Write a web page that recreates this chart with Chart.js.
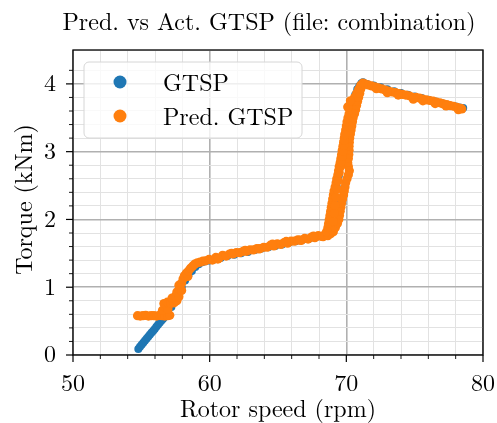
<!DOCTYPE html>
<html>
<head>
<meta charset="utf-8">
<script src="https://cdn.jsdelivr.net/npm/chart.js@4.4.1/dist/chart.umd.min.js"></script>
<style>
  html, body { margin: 0; padding: 0; background: #ffffff; }
  canvas { display: block; }
</style>
</head>
<body>
<canvas id="chart" width="497" height="423"></canvas>
<script>
// Measured GTSP: rotor speed (rpm) and torque (kNm)
const gtspSpeed = [
  54.78, 54.90, 55.02, 55.14, 55.26, 55.38, 55.50, 55.62, 55.74, 55.86, 55.98, 56.10, 56.22, 56.34, 56.46, 56.58, 56.70,
  56.95, 57.20, 57.45, 57.70, 57.95, 58.20, 58.45, 58.70, 58.95, 59.20, 59.45, 59.70, 59.95,
  60.30, 60.80, 61.30, 61.80, 62.30, 62.80, 63.30, 63.80, 64.30, 64.80, 65.30, 65.80, 66.30, 66.80, 67.30, 67.80, 68.30, 68.70,
  68.85, 69.00, 69.15, 69.30, 69.45, 69.60, 69.75, 69.90, 70.05, 70.20, 70.35, 70.50, 70.65, 70.80, 70.95, 71.10, 71.22,
  71.50, 72.00, 72.50, 73.00, 73.50, 74.00, 74.50, 75.00, 75.50, 76.00, 76.50, 77.00, 77.50, 78.00, 78.30, 78.55
];
const gtspTorque = [
  0.09, 0.12, 0.15, 0.18, 0.21, 0.24, 0.27, 0.30, 0.33, 0.355, 0.385, 0.415, 0.445, 0.475, 0.505, 0.53, 0.56,
  0.63, 0.71, 0.80, 0.89, 1.00, 1.10, 1.18, 1.24, 1.30, 1.34, 1.37, 1.385, 1.395,
  1.41, 1.43, 1.46, 1.48, 1.50, 1.52, 1.55, 1.57, 1.59, 1.61, 1.63, 1.66, 1.68, 1.70, 1.72, 1.74, 1.76, 1.79,
  1.95, 2.12, 2.30, 2.48, 2.65, 2.82, 2.99, 3.16, 3.33, 3.48, 3.62, 3.74, 3.84, 3.92, 3.97, 4.01, 4.025,
  4.00, 3.975, 3.95, 3.92, 3.89, 3.865, 3.84, 3.815, 3.79, 3.765, 3.74, 3.715, 3.69, 3.665, 3.65, 3.645
];

// Predicted GTSP: rotor speed (rpm) and torque (kNm)
const predSpeed = [
  // low-speed flat run
  54.72, 54.92, 55.12, 55.32, 55.52, 55.72, 55.92, 56.12, 56.32, 56.52, 56.72, 56.92, 57.08,
  // rise to the knee
  56.55, 56.75, 56.95, 56.65, 56.90, 57.15, 57.40, 57.60, 57.25, 57.50, 57.75, 57.60, 57.80, 57.95, 57.75, 57.95,
  58.05, 58.15, 58.40, 58.30, 58.45, 58.60, 58.75, 58.90, 59.10, 59.30, 59.50, 59.70,
  // partial-load plateau
  59.95, 60.20, 60.45, 60.70, 60.95, 61.20, 61.45, 61.70, 61.95, 62.20, 62.45, 62.70, 62.95, 63.20, 63.45, 63.70,
  63.95, 64.20, 64.45, 64.70, 64.95, 65.20, 65.45, 65.70, 65.95, 66.20, 66.45, 66.70, 66.95, 67.20, 67.45, 67.70,
  67.95, 68.20, 68.45,
  60.60, 61.60, 62.60, 63.60, 64.60, 65.60, 66.60, 67.60, 68.30, 68.65, 68.85,
  // steep transition
  68.55, 69.05, 68.65, 69.20, 68.70, 69.35, 68.75, 69.45, 68.80, 69.50, 68.85, 69.55, 68.90, 69.60, 68.95, 69.65,
  69.00, 69.72, 69.05, 69.80, 69.10, 69.85, 69.18, 69.90, 69.25, 69.95, 69.30, 70.05, 69.38, 70.15, 69.43, 70.22,
  69.48, 70.15, 69.55, 70.10, 69.60, 70.15, 69.65, 70.18, 69.70, 70.20, 69.75, 70.20, 69.80, 70.22, 69.85, 70.25,
  69.90, 70.30, 69.95, 70.35, 70.00, 70.40, 70.05, 70.45, 70.12, 70.50, 70.20, 70.60, 70.30, 70.68, 70.40, 70.75,
  70.45, 70.82, 70.60, 70.90, 70.75, 70.98, 70.90, 71.05, 71.05, 71.15, 71.20,
  70.10, 70.30,
  69.05, 69.12, 69.18, 69.25, 69.32, 69.40, 69.48, 69.55, 69.62, 69.70, 69.78, 69.82, 69.85, 69.90,
  // rated region
  71.35, 71.60, 71.85, 72.10, 72.35, 72.60, 72.85, 73.10, 73.35, 73.60, 73.85, 74.10, 74.35, 74.60, 74.85, 75.10,
  75.35, 75.60, 75.85, 76.10, 76.35, 76.60, 76.85, 77.10, 77.35, 77.60, 77.85, 78.10, 78.35,
  72.20, 73.00, 73.80, 74.90, 75.60, 76.50, 77.30, 78.20, 78.45
];
const predTorque = [
  0.58, 0.575, 0.58, 0.585, 0.575, 0.58, 0.58, 0.575, 0.585, 0.58, 0.575, 0.58, 0.585,
  0.66, 0.70, 0.68, 0.76, 0.78, 0.76, 0.77, 0.80, 0.84, 0.87, 0.86, 0.93, 0.97, 0.95, 1.03, 1.06,
  1.12, 1.17, 1.16, 1.21, 1.24, 1.28, 1.31, 1.34, 1.36, 1.37, 1.385, 1.39,
  1.41, 1.40, 1.44, 1.43, 1.47, 1.46, 1.49, 1.49, 1.51, 1.51, 1.53, 1.53, 1.55, 1.55, 1.57, 1.57,
  1.59, 1.59, 1.62, 1.61, 1.64, 1.63, 1.66, 1.65, 1.68, 1.68, 1.70, 1.69, 1.72, 1.71, 1.74, 1.73,
  1.76, 1.75, 1.78,
  1.415, 1.50, 1.545, 1.565, 1.635, 1.675, 1.695, 1.755, 1.745, 1.76, 1.79,
  1.82, 1.82, 1.88, 1.88, 1.94, 1.94, 2.00, 2.00, 2.06, 2.06, 2.12, 2.12, 2.18, 2.18, 2.24, 2.24,
  2.30, 2.30, 2.36, 2.36, 2.42, 2.42, 2.48, 2.48, 2.54, 2.54, 2.60, 2.60, 2.66, 2.66, 2.72, 2.72,
  2.78, 2.78, 2.84, 2.84, 2.90, 2.90, 2.96, 2.96, 3.02, 3.02, 3.08, 3.08, 3.14, 3.14, 3.20, 3.20,
  3.26, 3.26, 3.32, 3.32, 3.38, 3.38, 3.44, 3.44, 3.50, 3.50, 3.56, 3.56, 3.62, 3.62, 3.68, 3.68,
  3.74, 3.74, 3.80, 3.80, 3.86, 3.86, 3.92, 3.92, 3.98, 3.98, 4.01,
  3.66, 3.75,
  1.97, 2.09, 2.21, 2.33, 2.45, 2.57, 2.69, 2.77, 2.85, 2.93, 3.01, 3.09, 3.17, 3.25,
  4.00, 3.985, 3.97, 3.955, 3.94, 3.925, 3.91, 3.895, 3.88, 3.87, 3.855, 3.845, 3.835, 3.825, 3.80, 3.80,
  3.79, 3.775, 3.765, 3.755, 3.745, 3.73, 3.72, 3.705, 3.695, 3.68, 3.67, 3.655, 3.64,
  3.93, 3.87, 3.835, 3.775, 3.75, 3.71, 3.675, 3.62, 3.63
];

// Labelled (major) tick values of both axes
const speedTicks = [50, 60, 70, 80];
const torqueTicks = [0, 1, 2, 3, 4];

const SERIF = '"Latin Modern Roman", "Liberation Serif", serif';
const BLUE = '#1f77b4';
const ORANGE = '#ff7f0e';

const toPoints = (xs, ys) => xs.map((v, i) => ({ x: v, y: ys[i] }));
const near = (v, list) => list.some(t => Math.abs(t - v) < 1e-6);

// Frame, tick marks, titles and legend drawn on top of the plot
const decorations = {
  id: 'decorations',
  afterDraw(chart) {
    const { ctx, chartArea: a, scales: { x, y } } = chart;
    ctx.save();
    ctx.strokeStyle = '#000';

    x.ticks.forEach(t => {
      const px = x.getPixelForValue(t.value);
      const major = near(t.value, speedTicks);
      ctx.lineWidth = major ? 1.2 : 0.9;
      ctx.beginPath();
      ctx.moveTo(px, a.bottom);
      ctx.lineTo(px, a.bottom + (major ? 7 : 4));
      ctx.stroke();
    });
    y.ticks.forEach(t => {
      if (t.value > 4.45) return;
      const py = y.getPixelForValue(t.value);
      const major = near(t.value, torqueTicks);
      ctx.lineWidth = major ? 1.2 : 0.9;
      ctx.beginPath();
      ctx.moveTo(a.left, py);
      ctx.lineTo(a.left - (major ? 7 : 4), py);
      ctx.stroke();
    });

    ctx.lineWidth = 1.3;
    ctx.strokeRect(a.left, a.top, a.right - a.left, a.bottom - a.top);

    ctx.fillStyle = '#000';
    ctx.font = '24px ' + SERIF;
    ctx.textBaseline = 'alphabetic';
    ctx.textAlign = 'center';
    ctx.fillText('Pred. vs Act. GTSP (file: combination)', 269, 29.5);
    ctx.fillText('Rotor speed (rpm)', (a.left + a.right) / 2, 417);

    ctx.save();
    ctx.translate(32, (a.top + a.bottom) / 2 - 3);
    ctx.rotate(-Math.PI / 2);
    ctx.fillText('Torque (kNm)', 0, 0);
    ctx.restore();

    // legend box
    const bx = 84, by = 62, bw = 218, bh = 76, r = 5;
    ctx.beginPath();
    ctx.roundRect(bx, by, bw, bh, r);
    ctx.fillStyle = 'rgba(255,255,255,0.8)';
    ctx.fill();
    ctx.lineWidth = 1;
    ctx.strokeStyle = '#d6d6d6';
    ctx.stroke();

    ctx.textAlign = 'left';
    chart.data.datasets.forEach((ds, i) => {
      const cy = 82 + i * 34;
      ctx.beginPath();
      ctx.arc(120, cy, 6.5, 0, Math.PI * 2);
      ctx.fillStyle = ds.backgroundColor;
      ctx.fill();
      ctx.fillStyle = '#000';
      ctx.fillText(ds.label, 163, cy + 9);
    });
    ctx.restore();
  }
};

new Chart(document.getElementById('chart'), {
  type: 'scatter',
  data: {
    datasets: [
      {
        label: 'GTSP',
        data: toPoints(gtspSpeed, gtspTorque),
        backgroundColor: BLUE,
        borderWidth: 0,
        pointRadius: 4,
        order: 2
      },
      {
        label: 'Pred. GTSP',
        data: toPoints(predSpeed, predTorque),
        backgroundColor: ORANGE,
        borderWidth: 0,
        pointRadius: 4.6,
        order: 1
      }
    ]
  },
  options: {
    responsive: false,
    animation: false,
    events: [],
    layout: { padding: { top: 50, right: 14, left: 0, bottom: 0 } },
    plugins: {
      legend: { display: false },
      tooltip: { enabled: false },
      title: { display: false }
    },
    scales: {
      x: {
        type: 'linear',
        min: 50,
        max: 80,
        afterFit: s => { s.height = 68; s.paddingLeft = 0; s.paddingRight = 0; },
        border: { display: false },
        grid: {
          drawTicks: false,
          color: c => near(c.tick.value, speedTicks) ? '#b0b0b0' : '#e2e2e2',
          lineWidth: c => near(c.tick.value, speedTicks) ? 1.6 : 1
        },
        ticks: {
          stepSize: 2,
          autoSkip: false,
          maxRotation: 0,
          padding: 14,
          color: '#000',
          font: { family: SERIF, size: 24 },
          callback: v => near(v, speedTicks) ? String(v) : ''
        }
      },
      y: {
        min: 0,
        max: 4.5,
        afterFit: s => { s.width = 73; s.paddingTop = 0; s.paddingBottom = 0; },
        border: { display: false },
        grid: {
          drawTicks: false,
          color: c => near(c.tick.value, torqueTicks) ? '#b0b0b0' : '#e2e2e2',
          lineWidth: c => near(c.tick.value, torqueTicks) ? 1.6 : 1
        },
        ticks: {
          stepSize: 0.2,
          autoSkip: false,
          padding: 17,
          color: '#000',
          font: { family: SERIF, size: 24 },
          callback: v => near(v, torqueTicks) ? String(Math.round(v)) : ''
        }
      }
    }
  },
  plugins: [decorations]
});
</script>
</body>
</html>
